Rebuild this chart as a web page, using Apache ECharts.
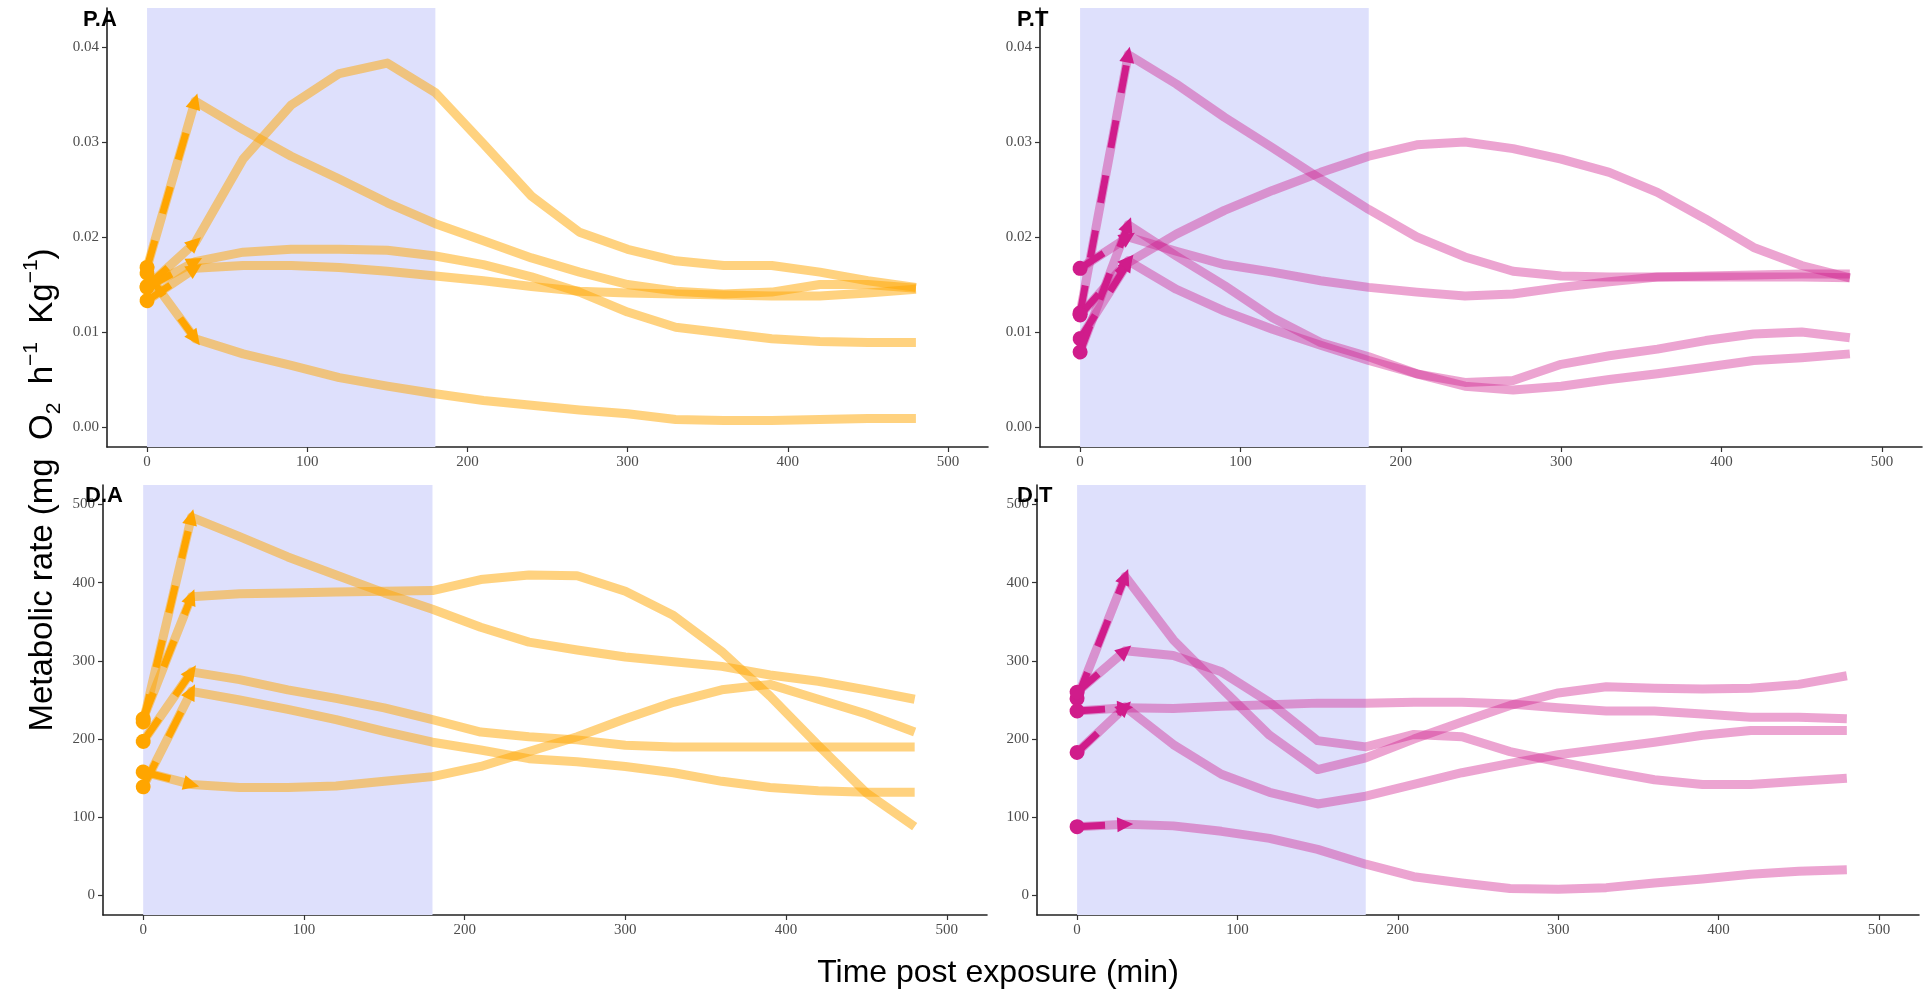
<!DOCTYPE html>
<html><head><meta charset="utf-8">
<script src="https://cdn.jsdelivr.net/npm/echarts@6/dist/echarts.min.js"></script>
<style>html,body{margin:0;padding:0;background:#fff}#c{width:1923px;height:992px}</style>
</head><body><div id="c"></div>
<script>
// time points (min)
const times = [0,30,60,90,120,150,180,210,240,270,300,330,360,390,420,450,480];
const xTicks = [0,100,200,300,400,500];
const pTicks = [0,0.01,0.02,0.03,0.04];
const dTicks = [0,100,200,300,400,500];
const exposureWindow = [0,180];

// P.A
const pa1 = [0.0148,0.0194,0.0282,0.0339,0.0372,0.0383,0.0352,0.0298,0.0243,0.0205,0.0187,0.0175,0.0170,0.0170,0.0163,0.0154,0.0147];
const pa2 = [0.0168,0.0343,0.0313,0.0285,0.0261,0.0236,0.0214,0.0196,0.0178,0.0163,0.0150,0.0143,0.0140,0.0142,0.0150,0.0150,0.0146];
const pa3 = [0.0162,0.0093,0.0077,0.0065,0.0052,0.0043,0.0035,0.0028,0.0023,0.0018,0.0014,0.0008,0.0007,0.0007,0.0008,0.0009,0.0009];
const pa4 = [0.0147,0.0174,0.0184,0.0187,0.0187,0.0186,0.0180,0.0171,0.0158,0.0142,0.0121,0.0105,0.0099,0.0093,0.0090,0.0089,0.0089];
const pa5 = [0.0133,0.0167,0.0170,0.0170,0.0168,0.0164,0.0159,0.0154,0.0148,0.0143,0.0141,0.0140,0.0139,0.0138,0.0138,0.0141,0.0145];
// P.T
const pt1 = [0.0120,0.0392,0.0361,0.0326,0.0294,0.0261,0.0229,0.0200,0.0179,0.0164,0.0159,0.0158,0.0158,0.0158,0.0158,0.0158,0.0157];
const pt2 = [0.0093,0.0173,0.0203,0.0228,0.0249,0.0268,0.0285,0.0297,0.0300,0.0293,0.0282,0.0268,0.0247,0.0219,0.0189,0.0170,0.0157];
const pt3 = [0.0079,0.0213,0.0180,0.0149,0.0115,0.0089,0.0074,0.0056,0.0047,0.0049,0.0066,0.0075,0.0082,0.0091,0.0098,0.0100,0.0094];
const pt4 = [0.0167,0.0200,0.0185,0.0171,0.0163,0.0154,0.0147,0.0142,0.0138,0.0140,0.0147,0.0153,0.0158,0.0159,0.0160,0.0161,0.0161];
const pt5 = [0.0118,0.0175,0.0145,0.0122,0.0103,0.0086,0.0070,0.0056,0.0043,0.0039,0.0043,0.0050,0.0056,0.0063,0.0070,0.0073,0.0077];
// D.A
const da1 = [222,484,459,433,410,387,366,343,324,314,305,299,293,282,274,263,251];
const da2 = [226,382,386,387,388,389,390,404,410,409,389,358,312,255,192,131,88];
const da3 = [197,286,276,263,252,240,225,209,203,199,192,190,190,190,190,190,190];
const da4 = [139,261,250,238,225,210,196,186,175,171,165,157,146,138,134,132,132];
const da5 = [158,142,138,138,140,146,152,165,184,203,226,247,263,270,251,232,209];
// D.T
const dt1 = [252,408,327,265,205,161,176,200,222,243,259,267,265,264,265,270,281];
const dt2 = [260,313,307,286,247,198,190,206,203,184,171,159,148,142,142,146,150];
const dt3 = [236,240,239,242,244,246,246,247,247,245,240,236,236,232,228,228,226];
const dt4 = [183,241,193,155,132,117,127,142,157,169,180,188,196,205,211,211,211];
const dt5 = [88,91,89,82,73,59,40,24,16,9,8,10,16,21,27,31,33];

const ORANGE = '#FFA500', PINK = '#D01C8B';
const panels = [
  {label:'P.A', color:ORANGE, alpha:0.5, lines:[pa1,pa2,pa3,pa4,pa5], grid:{left:107,top:8,width:881,height:439}, yMin:-0.0021, yMax:0.0441, yTicks:pTicks, dec:2, lab:[83,20]},
  {label:'P.T', color:PINK, alpha:0.4, lines:[pt1,pt2,pt3,pt4,pt5], grid:{left:1040,top:8,width:882,height:439}, yMin:-0.0021, yMax:0.0441, yTicks:pTicks, dec:2, lab:[1017,20]},
  {label:'D.A', color:ORANGE, alpha:0.5, lines:[da1,da2,da3,da4,da5], grid:{left:103,top:485,width:884,height:430}, yMin:-25, yMax:525, yTicks:dTicks, dec:0, lab:[85,496]},
  {label:'D.T', color:PINK, alpha:0.4, lines:[dt1,dt2,dt3,dt4,dt5], grid:{left:1037,top:485,width:882,height:430}, yMin:-25, yMax:525, yTicks:dTicks, dec:0, lab:[1017,496]}
];

const tickFont = {fontFamily:'Liberation Serif', fontSize:15, color:'#4d4d4d'};
const axisLineStyle = {color:'#222', width:1.6};
const grids=[], xAxes=[], yAxes=[], series=[], graphics=[];
panels.forEach((p,i)=>{
  grids.push(Object.assign({containLabel:false}, p.grid));
  xAxes.push({type:'value', gridIndex:i, min:-25, max:525,
    axisLine:{show:true, onZero:false, lineStyle:axisLineStyle},
    axisTick:{show:true, length:5, customValues:xTicks, lineStyle:{color:'#333', width:1.2}},
    axisLabel:Object.assign({customValues:xTicks, margin:8}, tickFont),
    splitLine:{show:false}});
  yAxes.push({type:'value', gridIndex:i, min:p.yMin, max:p.yMax,
    axisLine:{show:true, onZero:false, lineStyle:axisLineStyle},
    axisTick:{show:true, length:5, customValues:p.yTicks, lineStyle:{color:'#333', width:1.2}},
    axisLabel:Object.assign({customValues:p.yTicks, margin:8, formatter:v=>Number(v).toFixed(p.dec)}, tickFont),
    splitLine:{show:false}});
  // exposure window shading
  series.push({type:'line', xAxisIndex:i, yAxisIndex:i, data:[[exposureWindow[0], p.yTicks[0]]], symbol:'none', silent:true,
    lineStyle:{opacity:0}, z:1,
    markArea:{silent:true, itemStyle:{color:'#dee0fc'}, data:[[{xAxis:exposureWindow[0]},{xAxis:exposureWindow[1]}]]}});
  p.lines.forEach(vals=>{
    series.push({type:'line', xAxisIndex:i, yAxisIndex:i, silent:true, symbol:'none', z:3,
      data:times.map((t,j)=>[t, vals[j]]),
      lineStyle:{color:p.color, width:9, opacity:p.alpha, join:'round'}});
  });
  p.lines.forEach(vals=>{
    series.push({type:'line', xAxisIndex:i, yAxisIndex:i, silent:true, symbol:'none', z:5,
      data:[[times[0], vals[0]],[times[1], vals[1]]],
      lineStyle:{opacity:0},
      markLine:{silent:true, animation:false, symbol:['circle','triangle'], symbolSize:[15,16],
        label:{show:false}, emphasis:{disabled:true},
        itemStyle:{color:p.color},
        lineStyle:{color:p.color, width:7, type:[28,28], opacity:1},
        data:[[{coord:[times[0], vals[0]]},{coord:[times[1], vals[1]]}]]}});
  });
  graphics.push({type:'text', x:p.lab[0], y:p.lab[1], z:100,
    style:{text:p.label, fontFamily:'Liberation Sans', fontWeight:'bold', fontSize:22, fill:'#000', align:'left', verticalAlign:'middle'}});
});

graphics.push({type:'text', x:998, y:973, z:100,
  style:{text:'Time post exposure (min)', fontFamily:'Liberation Sans', fontSize:32, fill:'#000', align:'center', verticalAlign:'middle'}});
graphics.push({type:'text', x:43, y:490, rotation:Math.PI/2, z:100,
  style:{text:'Metabolic rate (mg  O{sub|2}  h{sup|\u22121}  Kg{sup|\u22121})', fontFamily:'Liberation Sans', fontSize:33, fill:'#000',
    align:'center', verticalAlign:'middle', lineHeight:44,
    rich:{sub:{fontFamily:'Liberation Sans', fontSize:21, fill:'#000', verticalAlign:'bottom', lineHeight:44},
          sup:{fontFamily:'Liberation Sans', fontSize:21, fill:'#000', verticalAlign:'top', lineHeight:44}}}});

const chart = echarts.init(document.getElementById('c'), null, {renderer:'canvas'});
chart.setOption({animation:false, backgroundColor:'#fff', grid:grids, xAxis:xAxes, yAxis:yAxes, series:series, graphic:graphics});
</script></body></html>
